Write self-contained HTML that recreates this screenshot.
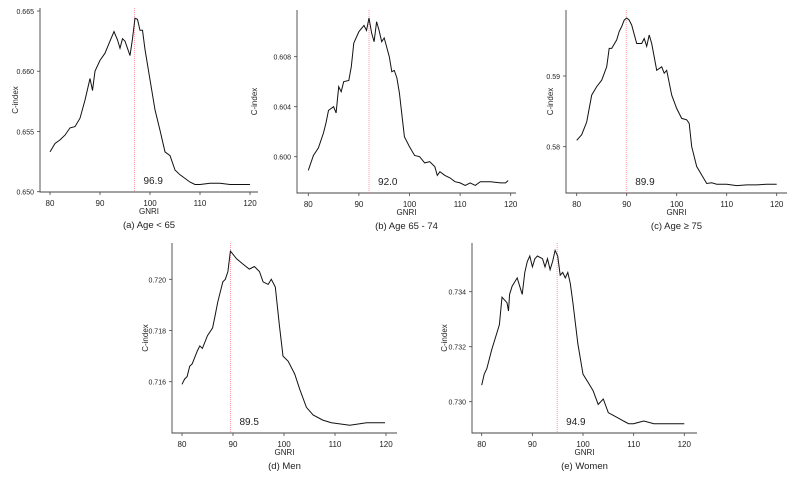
<!DOCTYPE html>
<html><head><meta charset="utf-8"><style>
body{margin:0;background:#fff;width:792px;height:475px;overflow:hidden}
svg text{font-family:"Liberation Sans",sans-serif;fill:#222}
</style></head><body>
<svg id="fig" width="792" height="475" xmlns="http://www.w3.org/2000/svg"></svg>
<script>
// Panel (a) Age < 65
const aX=[80,81,82,83,84,85,86,87,88,88.5,89,90,91,92,92.8,93.5,94,94.5,95,96,96.5,97,97.5,98,98.5,99,100,101,102,103,104,105,106,107,108,109,110,112,114,116,118,120];
const aY=[0.6533,0.654,0.6543,0.6547,0.6553,0.6554,0.6561,0.6576,0.6594,0.6584,0.660,0.6609,0.6615,0.6625,0.6633,0.6626,0.6619,0.6627,0.6625,0.6613,0.6627,0.6644,0.6643,0.6634,0.6634,0.6618,0.6593,0.6568,0.6551,0.6533,0.653,0.6518,0.6514,0.6511,0.6508,0.6506,0.6506,0.6507,0.6507,0.6506,0.6506,0.6506];
const aYTicks=[0.650,0.655,0.660,0.665];
// Panel (b) Age 65-74
const bX=[80,81,82,83,83.5,84,85,85.5,86,86.5,87,88,88.5,89,90,91,91.5,92,92.5,93,93.5,94,94.5,95,96,96.5,97,97.5,98,99,100,101,102,103,104,105,105.5,106,107,108,109,110,111,112,113,114,116,118,119,119.5];
const bY=[0.5989,0.6001,0.6007,0.6019,0.6027,0.6037,0.604,0.6035,0.6056,0.6052,0.606,0.6061,0.6072,0.6091,0.61,0.6105,0.6101,0.6111,0.6099,0.6092,0.6108,0.6101,0.6092,0.6095,0.608,0.6068,0.6069,0.6063,0.6051,0.6016,0.6008,0.6001,0.600,0.5995,0.5996,0.5992,0.5985,0.5988,0.5985,0.5983,0.598,0.5979,0.5977,0.5979,0.5977,0.598,0.598,0.5979,0.5979,0.5981];
const bYTicks=[0.600,0.604,0.608];
// Panel (c) Age >= 75
const cX=[80,81,82,83,84,85,86,86.5,87,88,88.5,89,89.5,90,90.5,91,92,93,93.5,94,94.5,95,95.5,96,97,97.5,98,99,100,101,102,102.5,103,104,105,106,107,108,110,112,114,116,118,120];
const cY=[0.5809,0.5817,0.5835,0.5873,0.5885,0.5894,0.5913,0.5939,0.5939,0.5951,0.5963,0.597,0.5979,0.5982,0.5979,0.5972,0.5946,0.5946,0.5953,0.5942,0.5958,0.5946,0.5927,0.5908,0.5913,0.5904,0.5908,0.5873,0.5854,0.584,0.5838,0.5833,0.58,0.5772,0.576,0.5748,0.5749,0.5747,0.5747,0.5745,0.5746,0.5746,0.5747,0.5747];
const cYTicks=[0.58,0.59];
// Panel (d) Men
const dX=[80,80.5,81,81.5,82,83,83.5,84,85,86,86.5,87,88,88.5,89,89.5,90.7,91.9,93.2,94.2,95.2,95.9,96.9,97.5,98.3,99.1,99.8,100.8,102.1,103.1,104.4,105.7,107.6,109.3,112.9,116.2,118.1,119.8];
const dY=[0.7159,0.7161,0.7162,0.7166,0.7167,0.7172,0.7174,0.7173,0.7178,0.7181,0.7186,0.7191,0.7199,0.72,0.7203,0.7211,0.7208,0.7206,0.7204,0.7205,0.7203,0.7199,0.7198,0.72,0.7197,0.7182,0.717,0.7168,0.7163,0.7157,0.715,0.7147,0.7145,0.7144,0.7143,0.7144,0.7144,0.7144];
const dYTicks=[0.716,0.718,0.720];
// Panel (e) Women
const eX=[80,80.5,81,82,83,83.5,84,85,85.3,85.5,86,87,87.5,88,88.5,89,89.5,90,90.5,91,92,92.5,93,93.5,94,94.5,95,95.5,96,96.5,97,97.5,98,99,100,101,102,103,104,105,106,107,108,109,110,112,114,116,118,120];
const eY=[0.7306,0.731,0.7312,0.7319,0.7325,0.7328,0.7338,0.7336,0.7333,0.7339,0.7342,0.7345,0.7342,0.7339,0.7347,0.7351,0.7353,0.7349,0.7352,0.7353,0.7352,0.7349,0.7352,0.7348,0.7351,0.7355,0.7353,0.7346,0.7347,0.7345,0.7347,0.7343,0.7336,0.7321,0.731,0.7307,0.7304,0.7299,0.7301,0.7296,0.7295,0.7294,0.7293,0.7292,0.7292,0.7293,0.7292,0.7292,0.7292,0.7292];
const eYTicks=[0.730,0.732,0.734];
const xTicks=[80,90,100,110,120];
const cutoffs=[96.9,92.0,89.9,89.5,94.9];
const captions=["(a) Age < 65","(b) Age 65 - 74","(c) Age ≥ 75","(d) Men","(e) Women"];

const panels=[
 {id:'a',X:aX,Y:aY,T:aYTicks,dec:3,x0:50,x1:250,v0:0.650,p0:191.7,v1:0.665,p1:11,ax:40,top:8,bot:192,right:258,yl:18},
 {id:'b',X:bX,Y:bY,T:bYTicks,dec:3,x0:308.3,x1:510.7,v0:0.600,p0:156.7,v1:0.608,p1:56.7,ax:297,top:10,bot:193,right:516,yl:257},
 {id:'c',X:cX,Y:cY,T:cYTicks,dec:2,x0:576.7,x1:776.7,v0:0.58,p0:146.7,v1:0.59,p1:76,ax:566,top:10,bot:193,right:787,yl:553},
 {id:'d',X:dX,Y:dY,T:dYTicks,dec:3,x0:182,x1:386,v0:0.716,p0:381.7,v1:0.720,p1:279.3,ax:172,top:243,bot:433,right:397,yl:148},
 {id:'e',X:eX,Y:eY,T:eYTicks,dec:3,x0:481.7,x1:684.3,v0:0.730,p0:401.7,v1:0.734,p1:291.7,ax:472,top:243,bot:433,right:697,yl:447}
];
const NS='http://www.w3.org/2000/svg';
const svg=document.getElementById('fig');
function mk(tag,attrs,parent){const e=document.createElementNS(NS,tag);for(const k in attrs)e.setAttribute(k,attrs[k]);parent.appendChild(e);return e;}
panels.forEach((P,i)=>{
 const sx=v=>P.x0+(v-80)*(P.x1-P.x0)/40;
 const sy=v=>P.p0+(v-P.v0)*(P.p1-P.p0)/(P.v1-P.v0);
 const g=mk('g',{},svg);
 
 
 const axes=mk('path',{d:`M${P.ax},${P.top}V${P.bot}H${P.right}`,stroke:'#444',fill:'none','stroke-width':0.9},g);
 
 
 xTicks.forEach(t=>{
  const x=sx(t);
  mk('line',{x1:x,x2:x,y1:P.bot,y2:P.bot+3,stroke:'#444','stroke-width':0.8},g);
  const tx=mk('text',{x:x,y:P.bot+14,'font-size':8,'text-anchor':'middle'},g);
  tx.textContent=t;
  
  
 });
 P.T.forEach(t=>{
  const y=sy(t);
  mk('line',{x1:P.ax-3,x2:P.ax,y1:y,y2:y,stroke:'#444','stroke-width':0.8},g);
  const tx=mk('text',{x:P.ax-6,y:y+3,'font-size':7,'text-anchor':'end'},g);
  tx.textContent=t.toFixed(P.dec);
  
  
 });
 const mid=(P.ax+P.right)/2;
 const xl=mk('text',{x:mid,y:P.bot+22,'font-size':8,'text-anchor':'middle'},g);
 xl.textContent='GNRI';
 
 
 const cap=mk('text',{x:mid,y:P.bot+36,'font-size':9.5,'text-anchor':'middle'},g);
 cap.textContent=captions[i];
 
 
 const yc=(P.top+P.bot)/2;
 const yl=mk('text',{x:P.yl,y:yc,'font-size':8,'text-anchor':'middle',transform:`rotate(-90 ${P.yl} ${yc})`},g);
 yl.textContent='C-index';
 
 
 const cx=sx(cutoffs[i]);
 const cl=mk('line',{x1:cx,x2:cx,y1:P.top,y2:P.bot,stroke:'#ff7f8f','stroke-width':0.8,'stroke-dasharray':'1,1'},g);
 
 
 const ct=mk('text',{x:cx+9,y:P.bot-8,'font-size':10,'text-anchor':'start'},g);
 ct.textContent=cutoffs[i].toFixed(1);
 
 
 let d='';
 P.X.forEach((x,j)=>{d+=(j?'L':'M')+sx(x).toFixed(1)+','+sy(P.Y[j]).toFixed(1);});
 const ln=mk('path',{d:d,stroke:'#111',fill:'none','stroke-width':1},g);
 
 
});
</script>
</body></html>
